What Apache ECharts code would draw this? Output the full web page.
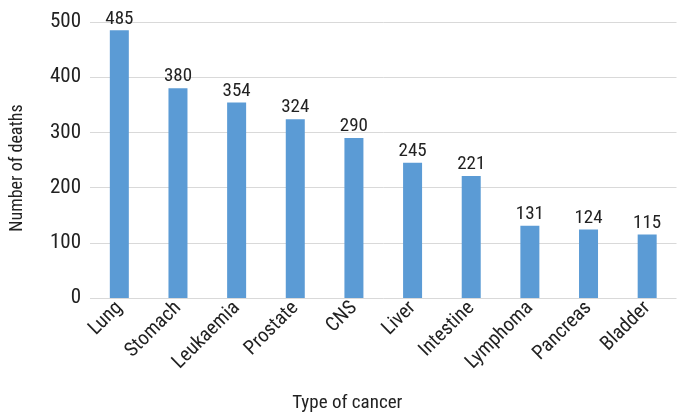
<!DOCTYPE html>
<html><head><meta charset="utf-8">
<script src="https://cdn.jsdelivr.net/npm/echarts@6/dist/echarts.min.js"></script>
<style>html,body{margin:0;padding:0;background:#fff}#c{width:684px;height:420px}</style>
</head><body><div id="c"></div>
<script>
const categories = ["Lung","Stomach","Leukaemia","Prostate","CNS","Liver","Intestine","Lymphoma","Pancreas","Bladder"];
const deaths = [485,380,354,324,290,245,221,131,124,115];
const yTicks = [0,100,200,300,400,500];
const FONT = '"Liberation Sans Narrow","Roboto Condensed","Liberation Sans",sans-serif';
const chart = echarts.init(document.getElementById('c'), null, {renderer:'canvas'});
chart.setOption({
  animation:false,
  grid:{left:86.5, right:7.5, top:22, bottom:122, containLabel:false},
  xAxis:{
    type:'category', data:categories,
    axisLine:{show:false}, axisTick:{show:false},
    axisLabel:{rotate:45, color:'#222', fontFamily:FONT, fontSize:20, margin:7, interval:0},
    name:'Type of cancer', nameLocation:'middle', nameGap:96,
    nameTextStyle:{color:'#222', fontFamily:FONT, fontSize:19, padding:[0,72,0,0]}
  },
  yAxis:{
    type:'value', min:yTicks[0], max:yTicks[yTicks.length-1], interval:100,
    axisLine:{show:false}, axisTick:{show:false},
    splitLine:{lineStyle:{color:'#d9d9d9', width:1}},
    axisLabel:{color:'#222', fontFamily:FONT, fontSize:21, margin:9},
    name:'Number of deaths', nameLocation:'middle', nameGap:64, nameRotate:90,
    nameTextStyle:{color:'#222', fontFamily:FONT, fontSize:18, padding:[0,16,0,0]}
  },
  series:[{
    type:'bar', data:deaths, barWidth:19,
    itemStyle:{color:'#5b9bd5'},
    label:{show:true, position:'top', distance:2, color:'#222', fontFamily:FONT, fontSize:19}
  }]
});
</script></body></html>
